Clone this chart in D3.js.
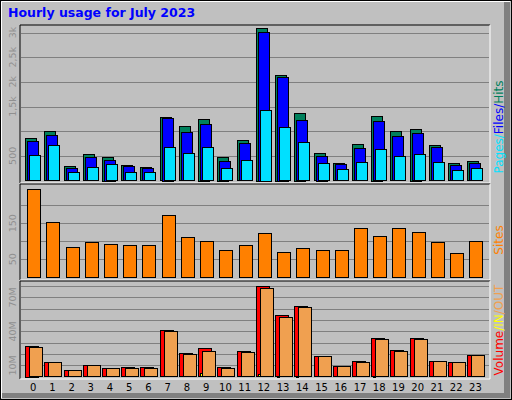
<!DOCTYPE html>
<html><head><meta charset="utf-8">
<script src="https://cdn.jsdelivr.net/npm/d3@7"></script>
<style>body{margin:0;background:#fff}</style></head><body>
<script>
const hours = d3.range(24).map(String);
const hits  = [860,1000,290,535,480,311,271,1287,1104,1247,480,820,3097,2141,1369,555,352,738,1308,1003,1044,718,352,393];
const files = [800,920,244,475,420,284,244,1267,982,1145,393,759,3016,2101,1226,501,332,657,1206,901,962,677,311,352];
const pages = [515,717,170,271,332,170,170,677,555,677,251,413,1430,1084,779,352,230,373,637,495,535,373,210,251];
const sites = [244,153,83,97,92,89,89,172,111,100,75,89,122,69,81,75,75,136,114,136,125,97,67,100];
const volume= [27,12.6,5.6,10,7.4,8.2,8.2,40.9,20.6,25,8.2,22.4,79.7,54.1,62,17.9,9.1,13.5,33.8,23.2,33.8,13.5,12.6,18.8];
const inV   = [0.3,0.3,0.2,0.3,0.2,0.2,0.2,0.4,0.3,3,0.2,0.3,2,1,0.5,0.3,0.2,0.3,1,0.3,0.4,0.3,0.2,0.3];
const outV  = [25.9,12.6,5.6,10,7.4,7.4,7.4,40,19.7,22.4,7.4,21.5,77.9,52.4,61.2,17.9,9.1,12.6,32.9,22.4,32.9,13.5,12.6,18.8];
const topTicks=[500,1000,1500,2000,2500,3000], topLabels={500:"500",1500:"1,5k",2000:"2k",2500:"2,5k",3000:"3k"};
const siteTicks=[50,100,150,200], siteLabels={50:"50",150:"150"};
const volTicks=[10,20,30,40,50,60,70,80], volLabels={10:"10M",40:"40M",70:"70M"};

const W=512,H=400,L=20,R=490;
const svg=d3.select("body").append("svg").attr("width",W).attr("height",H).style("font-family","'DejaVu Sans',sans-serif");
svg.append("rect").attr("width",W).attr("height",H).attr("fill","#c0c0c0");
svg.append("rect").attr("x",0.5).attr("y",0.5).attr("width",W-1).attr("height",H-1).attr("fill","none").attr("stroke","#000");
svg.append("path").attr("d",`M1.5,${H-2} V1.5 H${W-2}`).attr("stroke","#fff").attr("fill","none");
svg.append("rect").attr("x",W-8).attr("y",2).attr("width",6).attr("height",H-4).attr("fill","#808080");
svg.append("rect").attr("x",2).attr("y",H-7).attr("width",W-4).attr("height",5).attr("fill","#808080");
svg.append("text").attr("x",8).attr("y",17).text("Hourly usage for July 2023").attr("fill","#0000ff").attr("font-weight","bold").attr("font-size",12.5);

const x=d3.scaleBand().domain(hours).range([L+3.5,R-5]).paddingInner(0);
const cx=h=>x(h)+x.bandwidth()/2;

function panel(y0,y1,base,topVal,topY,ticks,labels){
  const y=d3.scaleLinear().domain([0,topVal]).range([base,topY]);
  svg.append("rect").attr("x",L).attr("y",y0).attr("width",R-L).attr("height",y1-y0).attr("fill","#c0c0c0");
  svg.append("path").attr("d",`M${L},${y1} V${y0} H${R}`).attr("stroke","#000").attr("fill","none");
  svg.append("path").attr("d",`M${L},${y1} H${R} V${y0}`).attr("stroke","#fff").attr("fill","none");
  ticks.forEach(t=>{
    if(y(t)<y0+2) return;
    svg.append("line").attr("x1",L+1).attr("x2",R-1).attr("y1",Math.round(y(t))+0.5).attr("y2",Math.round(y(t))+0.5).attr("stroke","#808080");
    if(labels[t]) svg.append("text").attr("transform",`translate(16,${y(t)}) rotate(-90)`).attr("text-anchor","middle")
      .attr("font-size",9.5).attr("fill","#909090").text(labels[t]);
  });
  return y;
}
function bars(data,y,off,w,fill){
  svg.append("g").selectAll("rect").data(data).join("rect")
   .attr("x",(d,i)=>Math.round(cx(hours[i])+off)+0.5).attr("width",w)
   .attr("y",d=>Math.round(y(d))+0.5).attr("height",d=>Math.max(0,Math.round(y(0)-y(d))))
   .attr("fill",fill).attr("stroke","#000");
}
const y1=panel(25,183,180.5,3000,32.5,topTicks,topLabels);
bars(hits,y1,-8,11,"#00805c");bars(files,y1,-6,11,"#0000ff");bars(pages,y1,-4,11,"#00e0ff");
const y2=panel(184,280,277.3,200,205.3,siteTicks,siteLabels);
bars(sites,y2,-6,13,"#ff8000");
const y3=panel(281,379,376.7,80,286.1,volTicks,volLabels);
bars(volume,y3,-8,13,"#ff0000");bars(inV,y3,-6,2,"#ffff00");bars(outV,y3,-4,13,"#f0a050");

svg.append("g").selectAll("text").data(hours).join("text").attr("x",h=>cx(h)).attr("y",391)
  .attr("text-anchor","middle").attr("font-size",10).text(d=>d);

function vlabel(yc,parts){
  const t=svg.append("text").attr("transform",`translate(503,${yc}) rotate(-90)`).attr("text-anchor","middle").attr("font-size",12);
  parts.forEach(([s,c])=>t.append("tspan").text(s).attr("fill",c));
}
vlabel(127,[["Pages","#00e0ff"],["/","#00e0ff"],["Files","#0000ff"],["/","#0000ff"],["Hits","#00805c"]]);
vlabel(240,[["Sites","#ff8000"]]);
vlabel(330,[["Volume","#ff0000"],["/IN","#ffff00"],["/OUT","#f0a050"]]);
</script></body></html>
